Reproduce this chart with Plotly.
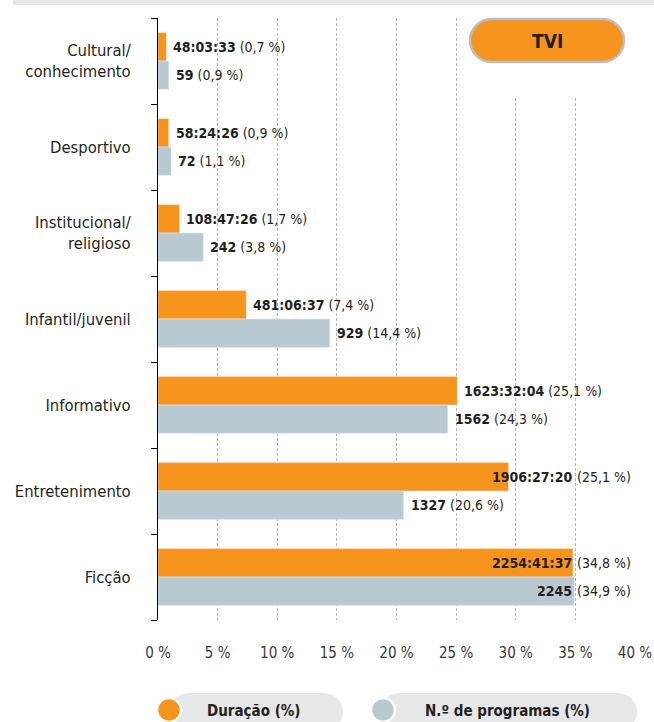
import plotly.graph_objects as go

categories = ["Cultural/<br>conhecimento", "Desportivo", "Institucional/<br>religioso",
              "Infantil/juvenil", "Informativo", "Entretenimento", "Ficção"]
duracao_pct = [0.7, 0.9, 1.8, 7.4, 25.1, 29.4, 34.8]
programas_pct = [0.9, 1.1, 3.8, 14.4, 24.3, 20.6, 34.9]
duracao_txt = ["48:03:33", "58:24:26", "108:47:26", "481:06:37", "1623:32:04", "1906:27:20", "2254:41:37"]
duracao_lbl = ["0,7 %", "0,9 %", "1,7 %", "7,4 %", "25,1 %", "25,1 %", "34,8 %"]
programas_txt = ["59", "72", "242", "929", "1562", "1327", "2245"]
programas_lbl = ["0,9 %", "1,1 %", "3,8 %", "14,4 %", "24,3 %", "20,6 %", "34,9 %"]
x_ticks = [0, 5, 10, 15, 20, 25, 30, 35, 40]

ORANGE = "#f7941d"
BLUEGRAY = "#b9c9d2"
TXT = "#231f20"
FONT = "Liberation Sans Narrow, DejaVu Sans Condensed, sans-serif"

W, H = 654, 722
L, R, T, B = 158, 635, 18, 620
BARGAP = 0.34

def px(x):
    return (x - L) / (R - L)

def py(y):
    return (B - y) / (B - T)

def pill(x0, y0, x1, y1):
    r = (y1 - y0) / 2
    k = 0.5523 * r
    pts = [("M", [(x0 + r, y0)]), ("L", [(x1 - r, y0)]),
           ("C", [(x1 - r + k, y0), (x1, y0 + r - k), (x1, y0 + r)]),
           ("C", [(x1, y0 + r + k), (x1 - r + k, y1), (x1 - r, y1)]),
           ("L", [(x0 + r, y1)]),
           ("C", [(x0 + r - k, y1), (x0, y1 - r + k), (x0, y1 - r)]),
           ("C", [(x0, y0 + r - k), (x0 + r - k, y0), (x0 + r, y0)])]
    s = ""
    for cmd, ps in pts:
        s += cmd + " " + " ".join(f"{px(a):.5f},{py(b):.5f}" for a, b in ps) + " "
    return s + "Z"

def circle(cx, cy, r, fill):
    return dict(type="circle", xref="paper", yref="paper",
                x0=px(cx - r), x1=px(cx + r), y0=py(cy + r), y1=py(cy - r),
                fillcolor=fill, line=dict(color="white", width=2.5), layer="above")

ypos = list(range(len(categories)))

fig = go.Figure()
fig.add_trace(go.Bar(y=ypos, x=duracao_pct, orientation="h", marker_color=ORANGE,
                     name="Duração (%)", hoverinfo="skip"))
fig.add_trace(go.Bar(y=ypos, x=programas_pct, orientation="h", marker_color=BLUEGRAY,
                     name="N.º de programas (%)", hoverinfo="skip"))

half = (1 - BARGAP) / 4
LABEL_CAP = 28
CAP_X = 34.9
annotations = []
for i in ypos:
    for vals, nums, lbls, off in ((duracao_pct, duracao_txt, duracao_lbl, -half),
                                  (programas_pct, programas_txt, programas_lbl, half)):
        v = vals[i]
        if v > LABEL_CAP:
            annotations.append(dict(x=CAP_X, y=i + off, xref="x", yref="y", text=f"<b>{nums[i]}</b>",
                                    showarrow=False, xanchor="right", yanchor="middle", xshift=0,
                                    font=dict(family=FONT, size=14, color=TXT)))
            annotations.append(dict(x=CAP_X, y=i + off, xref="x", yref="y", text=f"({lbls[i]})",
                                    showarrow=False, xanchor="left", yanchor="middle", xshift=1,
                                    font=dict(family=FONT, size=14, color=TXT)))
        else:
            annotations.append(dict(x=v, y=i + off, xref="x", yref="y",
                                    text=f"<b>{nums[i]}</b> ({lbls[i]})",
                                    showarrow=False, xanchor="left", yanchor="middle", xshift=5,
                                    font=dict(family=FONT, size=14, color=TXT)))

# badge text
annotations.append(dict(x=px(547), y=py(41), xref="paper", yref="paper", text="<b>TVI</b>",
                        showarrow=False, xanchor="center", yanchor="middle",
                        font=dict(family=FONT, size=19, color=TXT)))
# legend texts
annotations.append(dict(x=px(254), y=py(711), xref="paper", yref="paper", text="<b>Duração (%)</b>",
                        showarrow=False, xanchor="center", yanchor="middle",
                        font=dict(family=FONT, size=15, color=TXT)))
annotations.append(dict(x=px(507), y=py(711), xref="paper", yref="paper",
                        text="<b>N.º de programas (%)</b>",
                        showarrow=False, xanchor="center", yanchor="middle",
                        font=dict(family=FONT, size=15, color=TXT)))

shapes = [
    dict(type="rect", xref="paper", yref="paper", x0=px(13), x1=px(654), y0=py(5), y1=py(0),
         fillcolor="#e6e7e8", line=dict(width=0), layer="above"),
    dict(type="rect", xref="paper", yref="paper", x0=px(464), x1=px(630), y0=py(98), y1=py(16),
         fillcolor="white", line=dict(width=0), layer="above"),
    dict(type="path", xref="paper", yref="paper", path=pill(470, 19, 624, 62),
         fillcolor=ORANGE, line=dict(color="#bcbec0", width=2.5), layer="above"),
    dict(type="path", xref="paper", yref="paper", path=pill(170, 693, 343, 731),
         fillcolor="#e6e7e8", line=dict(width=0), layer="above"),
    dict(type="path", xref="paper", yref="paper", path=pill(380, 693, 637, 731),
         fillcolor="#e6e7e8", line=dict(width=0), layer="above"),
    circle(169, 710, 12, ORANGE),
    circle(383, 710, 12, BLUEGRAY),
]

fig.update_layout(
    width=W, height=H,
    margin=dict(l=L, r=W - R, t=T, b=H - B, autoexpand=False),
    paper_bgcolor="white", plot_bgcolor="white",
    barmode="group", bargap=BARGAP, bargroupgap=0,
    showlegend=False,
    annotations=annotations, shapes=shapes,
    font=dict(family=FONT, color=TXT),
    xaxis=dict(range=[0, 40], tickmode="array", tickvals=x_ticks,
               ticktext=[f"{v} %" for v in x_ticks],
               showgrid=True, gridcolor="#b5b5b5", griddash="3px,2px", gridwidth=1,
               zeroline=False, showline=False, ticks="",
               ticklabelstandoff=22, automargin=False,
               tickfont=dict(family=FONT, size=15, color="#3a3a3a")),
    yaxis=dict(range=[6.5, -0.5], tickmode="array", tickvals=ypos, ticktext=categories,
               showgrid=False, zeroline=False, showline=True, linecolor="black", linewidth=1,
               ticks="", ticklabelstandoff=23, automargin=False,
               minor=dict(tick0=0.5, dtick=1, ticks="outside", ticklen=6,
                          tickcolor="black", tickwidth=1, showgrid=False),
               tickfont=dict(family=FONT, size=16.5, color=TXT)),
)

fig.write_html("out.html",
               config={"displayModeBar": False, "responsive": False},
               post_script="document.body.style.margin='0';document.body.style.padding='0';"
                           "document.body.style.overflow='hidden';")
